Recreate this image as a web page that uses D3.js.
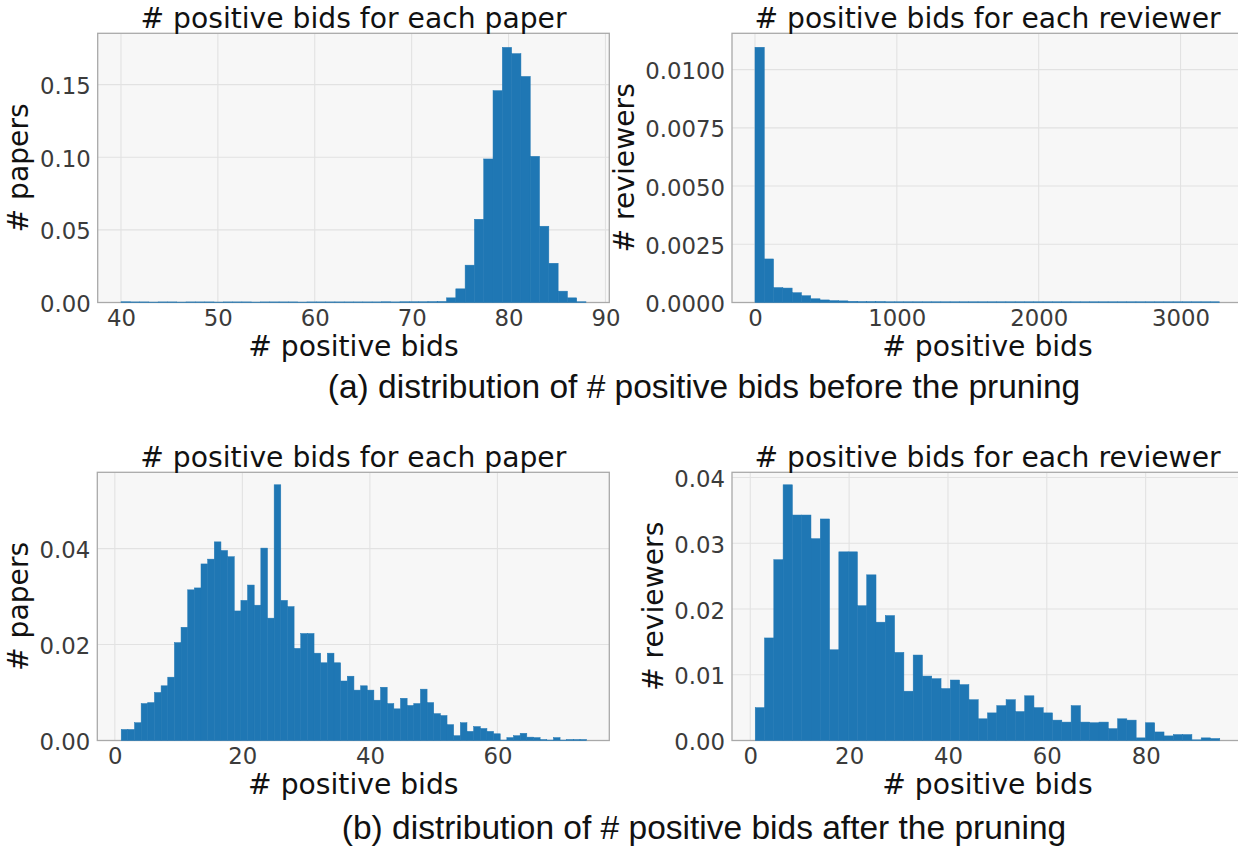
<!DOCTYPE html>
<html><head><meta charset="utf-8">
<script src="https://cdn.jsdelivr.net/npm/d3@7"></script>
<style>body{margin:0;background:#fff;overflow:hidden} svg{display:block}</style>
</head><body><svg id="c" width="1238" height="849"></svg>
<script>
// ---------- data (histogram densities per bin) ----------
const paperBidsBefore = [
0.0005,0.0004,0.0004,0.0003,0.0004,0.0004,0.0003,0.0004,0.0004,0.0004,
0.0003,0.0004,0.0004,0.0004,0.0003,0.0004,0.0004,0.0004,0.0004,0.0003,
0.0004,0.0004,0.0004,0.0004,0.0004,0.0004,0.0004,0.0004,0.0005,0.0004,
0.0005,0.0005,0.0005,0.0006,0.0007,
0.0032,0.0094,0.0257,0.0573,0.0988,0.1458,0.1756,0.1713,0.1556,0.1006,
0.0525,0.0270,0.0078,0.0032,0.0005];
const paperBidsBeforeRange = [40, 88];

const reviewerBidsBefore = [
0.01096,0.00187,0.00064,0.00062,0.00042,0.00029,0.00016,0.00011,0.00008,0.00007,
0.00005,0.00004,0.00004,0.00004,0.00003,0.00003,0.00003,0.00003,0.00003,0.00003,
0.00003,0.00003,0.00003,0.00003,0.00003,0.00003,0.00003,0.00003,0.00003,0.00003,
0.00003,0.00003,0.00003,0.00003,0.00003,0.00003,0.00003,0.00003,0.00003,0.00003,
0.00003,0.00003,0.00003,0.00003,0.00003,0.00003,0.00003,0.00003,0.00003,0.00003];
const reviewerBidsBeforeRange = [0, 3275];

const paperBidsAfter = [
0.0023,0.0023,0.0037,0.0077,0.0079,0.0100,0.0114,0.0132,0.0204,0.0236,
0.0314,0.0318,0.0368,0.0378,0.0414,0.0396,0.0383,0.0270,0.0292,0.0324,
0.0282,0.0401,0.0255,0.0533,0.0292,0.0279,0.0192,0.0223,0.0223,0.0182,
0.0162,0.0182,0.0162,0.0124,0.0134,0.0105,0.0114,0.0105,0.0084,0.0111,
0.0077,0.0066,0.0088,0.0073,0.0077,0.0107,0.0079,0.0056,0.0052,0.0033,
0.0010,0.0037,0.0019,0.0029,0.0025,0.0019,0.0014,0.0001,0.0006,0.0010,
0.0015,0.0007,0.0006,0.0002,0.0001,0.0006,0.0001,0.0002,0.0002,0.0002];
const paperBidsAfterRange = [1, 74];

const reviewerBidsAfter = [
0.0050,0.0156,0.0275,0.0389,0.0343,0.0343,0.0307,0.0337,0.0138,0.0287,
0.0287,0.0205,0.0252,0.0180,0.0190,0.0134,0.0075,0.0130,0.0098,0.0094,
0.0079,0.0092,0.0085,0.0062,0.0033,0.0042,0.0053,0.0062,0.0044,0.0068,
0.0050,0.0042,0.0031,0.0028,0.0053,0.0028,0.0027,0.0028,0.0018,0.0033,
0.0031,0.0004,0.0027,0.0013,0.0007,0.0009,0.0009,0.0001,0.0004,0.0003];
const reviewerBidsAfterRange = [1, 95];

// ---------- tick labels ----------
const xTicksPaperBefore = [40, 50, 60, 70, 80, 90];
const yTicksPaperBefore = [0, 0.05, 0.10, 0.15];
const xTicksReviewerBefore = [0, 1000, 2000, 3000];
const yTicksReviewerBefore = [0, 0.0025, 0.0050, 0.0075, 0.0100];
const xTicksPaperAfter = [0, 20, 40, 60];
const yTicksPaperAfter = [0, 0.02, 0.04];
const xTicksReviewerAfter = [0, 20, 40, 60, 80];
const yTicksReviewerAfter = [0, 0.01, 0.02, 0.03, 0.04];

const titles = ["# positive bids for each paper", "# positive bids for each reviewer"];
const xLabel = "# positive bids";
const yLabels = ["# papers", "# reviewers"];
const captions = ["(a) distribution of # positive bids before the pruning",
                  "(b) distribution of # positive bids after the pruning"];

// ---------- layout ----------
const svg = d3.select("#c");
const FONT = "'DejaVu Sans', sans-serif";
const BAR = "#1f77b4";

const panels = [
  {values: paperBidsBefore, range: paperBidsBeforeRange, xDom: [37.6, 90.4], yDom: [0, 0.1853],
   box: [97.7, 609.3, 33.3, 302.5], xt: xTicksPaperBefore, yt: yTicksPaperBefore, yf: ".2f",
   title: titles[0], ylabel: yLabels[0], ylabX: 27.5},
  {values: reviewerBidsBefore, range: reviewerBidsBeforeRange, xDom: [-162, 3440], yDom: [0, 0.01156],
   box: [732, 1243, 33.3, 302.5], xt: xTicksReviewerBefore, yt: yTicksReviewerBefore, yf: ".4f",
   title: titles[1], ylabel: yLabels[1], ylabX: 634},
  {values: paperBidsAfter, range: paperBidsAfterRange, xDom: [-2.75, 77.55], yDom: [0, 0.0559],
   box: [97.3, 609.3, 472.3, 740.5], xt: xTicksPaperAfter, yt: yTicksPaperAfter, yf: ".2f",
   title: titles[0], ylabel: yLabels[0], ylabX: 27.5},
  {values: reviewerBidsAfter, range: reviewerBidsAfterRange, xDom: [-3.7, 99.7], yDom: [0, 0.0408],
   box: [732, 1243, 472.3, 740.5], xt: xTicksReviewerAfter, yt: yTicksReviewerAfter, yf: ".2f",
   title: titles[1], ylabel: yLabels[1], ylabX: 663}
];

panels.forEach(p => {
  const [x0, x1, y0, y1] = p.box;
  const x = d3.scaleLinear().domain(p.xDom).range([x0, x1]);
  const y = d3.scaleLinear().domain(p.yDom).range([y1, y0]);
  const g = svg.append("g");

  g.append("rect").attr("x", x0).attr("y", y0).attr("width", x1 - x0).attr("height", y1 - y0)
    .attr("fill", "#f7f7f7");

  g.append("g").selectAll("line").data(p.xt).join("line")
    .attr("x1", d => x(d)).attr("x2", d => x(d)).attr("y1", y0).attr("y2", y1)
    .attr("stroke", "#e2e2e2").attr("stroke-width", 1.1);
  g.append("g").selectAll("line").data(p.yt).join("line")
    .attr("x1", x0).attr("x2", x1).attr("y1", d => y(d)).attr("y2", d => y(d))
    .attr("stroke", "#e2e2e2").attr("stroke-width", 1.1);

  g.append("rect").attr("x", x0).attr("y", y0).attr("width", x1 - x0).attr("height", y1 - y0)
    .attr("fill", "none").attr("stroke", "#a9a9a9").attr("stroke-width", 1.3);

  const n = p.values.length;
  const w = (p.range[1] - p.range[0]) / n;
  g.append("g").selectAll("rect").data(p.values).join("rect")
    .attr("x", (d, i) => x(p.range[0] + i * w))
    .attr("width", (d, i) => x(p.range[0] + (i + 1) * w) - x(p.range[0] + i * w))
    .attr("y", d => y(d))
    .attr("height", d => y(0) - y(d))
    .attr("fill", BAR).attr("stroke", BAR).attr("stroke-width", 0.5);

  const ax = g.append("g").attr("transform", `translate(0,${y1})`)
    .call(d3.axisBottom(x).tickValues(p.xt).tickSize(0).tickPadding(7.8).tickFormat(d3.format("d")));
  const ay = g.append("g").attr("transform", `translate(${x0},0)`)
    .call(d3.axisLeft(y).tickValues(p.yt).tickSize(0).tickPadding(7).tickFormat(d3.format(p.yf)));
  [ax, ay].forEach(a => {
    a.select(".domain").remove();
    a.selectAll("text").attr("font-family", FONT).attr("font-size", "22.8px").attr("fill", "#3b3b3b");
  });
  ay.selectAll("text").attr("dy", "0.4em");

  const cx = (x0 + x1) / 2;
  g.append("text").attr("x", cx).attr("y", y0 - 5).attr("text-anchor", "middle")
    .attr("font-family", FONT).attr("font-size", "28.2px").attr("fill", "#111").text(p.title);
  g.append("text").attr("x", cx).attr("y", y1 + 53.5).attr("text-anchor", "middle")
    .attr("font-family", FONT).attr("font-size", "28.2px").attr("fill", "#111").text(xLabel);
  g.append("text").attr("transform", `translate(${p.ylabX},${(y0 + y1) / 2}) rotate(-90)`)
    .attr("text-anchor", "middle")
    .attr("font-family", FONT).attr("font-size", "28.2px").attr("fill", "#111").text(p.ylabel);
});

svg.selectAll(".caption").data(captions).join("text")
  .attr("class", "caption")
  .attr("x", 704).attr("y", (d, i) => i === 0 ? 398 : 839)
  .attr("text-anchor", "middle")
  .attr("font-family", "'Liberation Sans', Arial, Helvetica, sans-serif")
  .attr("font-size", "33.5px").attr("fill", "#111").text(d => d);
</script>
</body></html>
